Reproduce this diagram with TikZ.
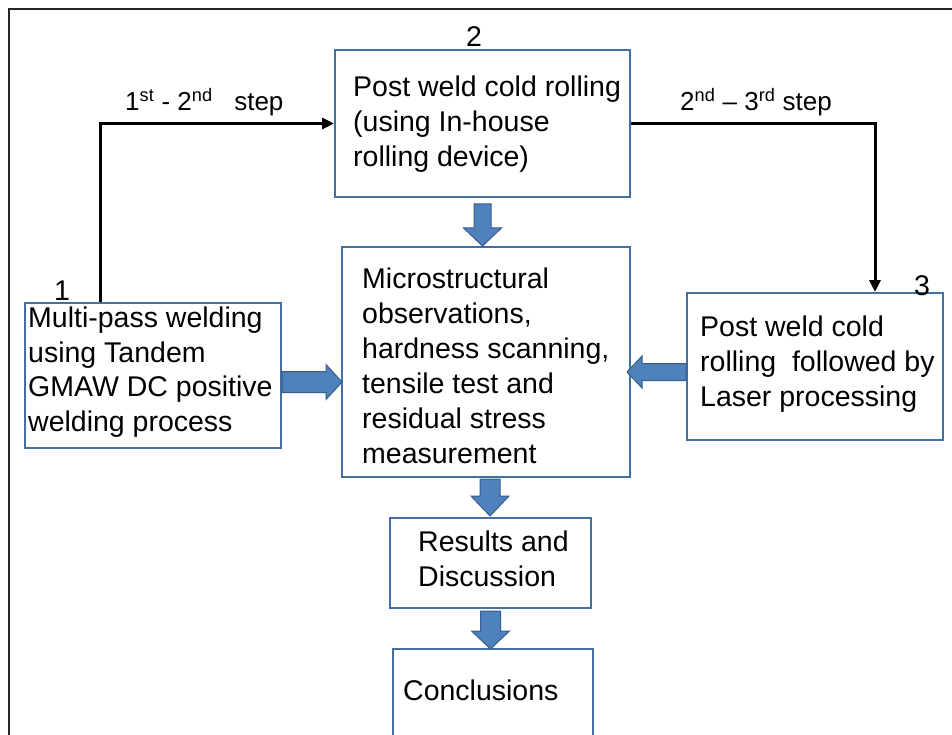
\documentclass[tikz,border=0pt]{standalone}
\usepackage{fontspec}
\setmainfont{Liberation Sans}
\usetikzlibrary{arrows.meta,calc}
\definecolor{boxblue}{RGB}{65,113,156}
\definecolor{arrfill}{RGB}{79,129,189}
\definecolor{arrline}{RGB}{56,93,138}
\newcommand\mainfs{\fontsize{28.5}{35}\selectfont}
\newcommand\lblfs{\fontsize{26}{31}\selectfont}
\newcommand\blkarr[6]{%
  \begin{scope}[shift={#1}, rotate=#2]
    \filldraw[blkarrow] (0,-#4/2) -- (#3-#6,-#4/2) -- (#3-#6,-#5/2) -- (#3,0)
      -- (#3-#6,#5/2) -- (#3-#6,#4/2) -- (0,#4/2) -- cycle;
  \end{scope}}
\tikzset{
  box/.style={draw=boxblue, line width=2pt, rectangle, inner sep=0pt},
  txt/.style={anchor=north west, inner sep=0pt, align=left, font=\mainfs},
  num/.style={anchor=base, inner sep=0pt, font=\mainfs},
  lbl/.style={anchor=base west, inner sep=0pt, font=\lblfs},
  conn/.style={draw=black, line width=3pt, -{Triangle[length=12pt,width=11pt]}},
  blkarrow/.style={fill=arrfill, draw=arrline, line width=1pt, line join=miter},
  frame/.style={draw=black!85, line width=2.5pt}
}
\begin{document}
\begin{tikzpicture}[x=1pt, y=-1pt]
\useasboundingbox (0,0) rectangle (952,735);
\clip (0,0) rectangle (952,735);
\fill[white] (0,0) rectangle (952,735);
% outer frame
\draw[frame] (9,770) -- (9,9) -- (990,9);
% boxes
\node[box, minimum width=295pt, minimum height=147pt] (b2) at (482.5,123.5) {};
\node[box, minimum width=288pt, minimum height=230pt] (bc) at (486,362) {};
\node[box, minimum width=256pt, minimum height=145pt] (b1) at (153,375.5) {};
\node[box, minimum width=256pt, minimum height=147pt] (b3) at (815,366.5) {};
\node[box, minimum width=201pt, minimum height=90pt] (br) at (490.5,563) {};
\node[box, minimum width=200pt, minimum height=112pt] (bk) at (493,705) {};
% texts
\node[txt] (t2) at (353,71.5) {\strut Post weld cold rolling\\(using In-house\\rolling device)};
\node[txt, font=\fontsize{28.5}{34.5}\selectfont] (t1) at (28,303.5) {\strut Multi-pass welding\\using Tandem\\GMAW DC positive\\welding process};
\node[txt] (tc) at (362,263.5) {\strut Microstructural\\observations,\\hardness scanning,\\tensile test and\\residual stress\\measurement};
\node[txt] (t3) at (700,311.5) {\strut Post weld cold\\rolling\ \ followed by\\Laser processing};
\node[txt] (tr) at (418,526.5) {\strut Results and\\Discussion};
\node[txt] (tk) at (403,675.5) {\strut Conclusions};
% numbers
\node[num] (n2) at (474,47) {2};
\node[num] (n1) at (62,300) {1};
\node[num] (n3) at (922,295) {3};
% step labels
\node[lbl] (l12) at (125,111) {1\textsuperscript{st} - 2\textsuperscript{nd}\ \ \ step};
\node[lbl] (l23) at (680,111) {2\textsuperscript{nd} -- 3\textsuperscript{rd} step};
% connectors
\coordinate (c1) at ($(b1.north west)+(76,0)$);
\coordinate (c3) at ($(b3.north west)+(189,0)$);
\draw[conn] (c1) |- (b2.west);
\draw[conn] (b2.east) -| (c3);
% block arrows
\blkarr{($(b2.south)+(0,6)$)}{-90}{42}{17}{38}{18}
\blkarr{($(b1.east)+(0,6.5)$)}{0}{60}{21}{35}{16}
\blkarr{($(b3.west)+(0,5.5)$)}{180}{59}{17}{32}{15}
\blkarr{($(bc.south)+(4,1)$)}{-90}{37}{20}{38}{20}
\blkarr{($(br.south)+(0,2)$)}{-90}{38}{20}{38}{18}
\end{tikzpicture}
\end{document}
